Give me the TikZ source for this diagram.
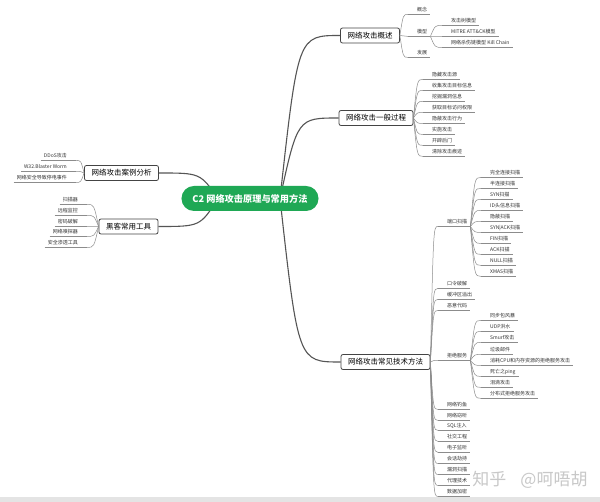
\documentclass[tikz,border=0pt]{standalone}
\usepackage{fontspec}
\setmainfont{Noto Sans CJK SC}
\usetikzlibrary{calc,backgrounds}
\definecolor{RootGreen}{HTML}{1FA855}
\definecolor{BranchGray}{HTML}{555555}
\definecolor{TwigGray}{HTML}{8C8C8C}
\definecolor{TopicLine}{HTML}{444444}
\definecolor{LeafText}{HTML}{333333}
\definecolor{MarkGray}{HTML}{C8C8C8}
\definecolor{BarGray}{HTML}{E4E4E4}

\tikzset{
  root/.style={fill=RootGreen,text=white,rounded corners=12.5pt,minimum height=25pt,
    inner xsep=11pt,font=\fontsize{9.2}{11}\selectfont\bfseries},
  topic/.style={draw=TopicLine,line width=.8pt,rounded corners=2pt,fill=white,
    minimum height=15pt,inner xsep=7pt,font=\fontsize{7.5}{9}\selectfont},
  leaf/.style={inner xsep=3pt,inner ysep=1.5pt,text height=4.4pt,text depth=1pt,
    text=LeafText,font=\fontsize{5}{6}\selectfont},
  branch/.style={BranchGray,line width=1.1pt},
  twig/.style={TwigGray,line width=.5pt},
}

\begin{document}
\begin{tikzpicture}[x=1pt,y=-1pt]
  \useasboundingbox (0,0) rectangle (600,502);
  \begin{scope}[on background layer]
    \fill[white] (0,0) rectangle (600,502);
    \fill[BarGray] (0,497) rectangle (600,502);
  \end{scope}

  % centre and main topics
  \node[root] (root) at (250,198.5) {C2 网络攻击原理与常用方法};
  \node[topic] (ov) at (370,35.5) {网络攻击概述};
  \node[topic] (gp) at (376,118) {网络攻击一般过程};
  \node[topic] (tech) at (385.5,362) {网络攻击常见技术方法};
  \node[topic] (case) at (121.5,173) {网络攻击案例分析};
  \node[topic] (tool) at (128.5,226.5) {黑客常用工具};

  \coordinate (rootR) at ([xshift=30pt]root.center);
  \coordinate (rootL) at ([xshift=-32pt]root.center);
  \begin{scope}[on background layer]
    \foreach \t in {ov,gp,tech}
      \draw[branch] (rootR) .. controls ($(rootR |- \t.west)!.3!(\t.west)$) .. (\t.west);
    \foreach \t in {case,tool}
      \draw[branch] (rootL) .. controls ($(rootL |- \t.east)!.3!(\t.east)$) .. (\t.east);
  \end{scope}

  % right side leaves
  \foreach \n/\txt/\y in {ov1/概念/10,ov2/模型/32,ov3/发展/53}{
    \node[leaf,anchor=west] (\n) at (414,\y) {\txt};
    \coordinate (\n-s) at ([xshift=-6pt]\n.south west);
    \draw[twig] (\n-s) -- (\n.south east);
    \draw[twig] (ov.east) .. controls ($(ov.east |- \n-s)!.4!(\n-s)$) .. (\n-s);}
  \foreach \n/\txt/\y in {md1/攻击树模型/21,md2/MITRE ATT\&CK模型/32,md3/网络杀伤链模型 Kill Chain/43}{
    \node[leaf,anchor=west] (\n) at (448,\y) {\txt};
    \coordinate (\n-s) at ([xshift=-6pt]\n.south west);
    \draw[twig] (\n-s) -- (\n.south east);
    \draw[twig] (ov2.south east) .. controls ($(ov2.south east |- \n-s)!.4!(\n-s)$) .. (\n-s);}
  \foreach \n/\txt/\y in {gp1/隐藏攻击源/75,gp2/收集攻击目标信息/86,gp3/挖掘漏洞信息/97,
      gp4/获取目标访问权限/108,gp5/隐蔽攻击行为/119,gp6/实施攻击/130,gp7/开辟后门/141,
      gp8/清除攻击痕迹/152}{
    \node[leaf,anchor=west] (\n) at (429,\y) {\txt};
    \coordinate (\n-s) at ([xshift=-6pt]\n.south west);
    \draw[twig] (\n-s) -- (\n.south east);
    \draw[twig] (gp.east) .. controls ($(gp.east |- \n-s)!.4!(\n-s)$) .. (\n-s);}
  \foreach \n/\txt/\y in {tc1/端口扫描/222,tc2/口令破解/284,tc3/缓冲区溢出/295,tc4/恶意代码/306,
      tc5/拒绝服务/356,tc6/网络钓鱼/405,tc7/网络窃听/416,tc8/SQL注入/426,tc9/社交工程/437,
      tc10/电子监听/448,tc11/会话劫持/459,tc12/漏洞扫描/470,tc13/代理技术/481,tc14/数据加密/492}{
    \node[leaf,anchor=west] (\n) at (444,\y) {\txt};
    \coordinate (\n-s) at ([xshift=-6pt]\n.south west);
    \draw[twig] (\n-s) -- (\n.south east);
    \draw[twig] (tech.east) .. controls ($(tech.east |- \n-s)!.4!(\n-s)$) .. (\n-s);}
  \foreach \n/\txt/\y in {ps1/完全连接扫描/173,ps2/半连接扫描/184,ps3/SYN扫描/195,ps4/ID头信息扫描/206,
      ps5/隐蔽扫描/217,ps6/SYN|ACK扫描/228,ps7/FIN扫描/239,ps8/ACK扫描/250,ps9/NULL扫描/261,
      ps10/XMAS扫描/272}{
    \node[leaf,anchor=west] (\n) at (487,\y) {\txt};
    \coordinate (\n-s) at ([xshift=-6pt]\n.south west);
    \draw[twig] (\n-s) -- (\n.south east);
    \draw[twig] (tc1.south east) .. controls ($(tc1.south east |- \n-s)!.4!(\n-s)$) .. (\n-s);}
  \foreach \n/\txt/\y in {ds1/同步包风暴/316,ds2/UDP洪水/327,ds3/Smurf攻击/338,ds4/垃圾邮件/350,
      ds5/消耗CPU和内存资源的拒绝服务攻击/361,ds6/死亡之ping/372,ds7/泪滴攻击/383,
      ds8/分布式拒绝服务攻击/394}{
    \node[leaf,anchor=west] (\n) at (487,\y) {\txt};
    \coordinate (\n-s) at ([xshift=-6pt]\n.south west);
    \draw[twig] (\n-s) -- (\n.south east);
    \draw[twig] (tc5.south east) .. controls ($(tc5.south east |- \n-s)!.4!(\n-s)$) .. (\n-s);}

  % left side leaves
  \foreach \n/\txt/\y in {cs1/DDoS攻击/156,cs2/W32.Blaster Worm/167,cs3/网络安全导致停电事件/178}{
    \node[leaf,anchor=east] (\n) at (70,\y) {\txt};
    \coordinate (\n-s) at ([xshift=6pt]\n.south east);
    \draw[twig] (\n.south west) -- (\n-s);
    \draw[twig] (case.west) .. controls ($(case.west |- \n-s)!.4!(\n-s)$) .. (\n-s);}
  \foreach \n/\txt/\y in {tl1/扫描器/200,tl2/远程监控/211,tl3/密码破解/222,tl4/网络嗅探器/232,
      tl5/安全渗透工具/243}{
    \node[leaf,anchor=east] (\n) at (81,\y) {\txt};
    \coordinate (\n-s) at ([xshift=6pt]\n.south east);
    \draw[twig] (\n.south west) -- (\n-s);
    \draw[twig] (tool.west) .. controls ($(tool.west |- \n-s)!.4!(\n-s)$) .. (\n-s);}

  \node[font=\fontsize{17}{17}\selectfont,text=MarkGray] (mark) at (530,480) {知乎\hspace{14pt}@呵唔胡};
\end{tikzpicture}
\end{document}
